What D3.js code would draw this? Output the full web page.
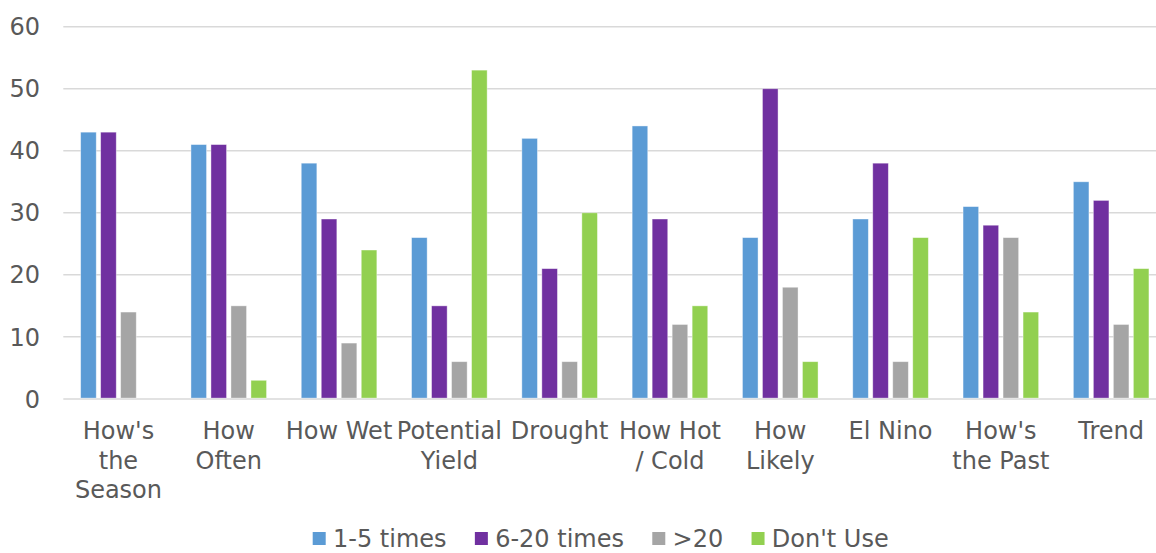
<!DOCTYPE html>
<html>
<head>
<meta charset="utf-8">
<script src="https://cdn.jsdelivr.net/npm/d3@7"></script>
<style>
  html, body { margin: 0; padding: 0; background: #fff; }
  svg { display: block; }
  text { font-family: "DejaVu Sans", Verdana, sans-serif; fill: #595959; }
</style>
</head>
<body>
<svg id="chart" width="1156" height="553"></svg>
<script>
const categories = ["How's the Season", "How Often", "How Wet", "Potential Yield", "Drought",
  "How Hot / Cold", "How Likely", "El Nino", "How's the Past", "Trend"];
const categoryLines = [["How's", "the", "Season"], ["How", "Often"], ["How Wet"], ["Potential", "Yield"],
  ["Drought"], ["How Hot", "/ Cold"], ["How", "Likely"], ["El Nino"], ["How's", "the Past"], ["Trend"]];
const seriesNames = ["1-5 times", "6-20 times", ">20", "Don't Use"];
const times1to5  = [43, 41, 38, 26, 42, 44, 26, 29, 31, 35];
const times6to20 = [43, 41, 29, 15, 21, 29, 50, 38, 28, 32];
const over20     = [14, 15, 9, 6, 6, 12, 18, 6, 26, 12];
const dontUse    = [0, 3, 24, 53, 30, 15, 6, 26, 14, 21];
const yTicks = [0, 10, 20, 30, 40, 50, 60];
const colors = ["#5B9BD5", "#7030A0", "#A5A5A5", "#92D050"];

const seriesValues = [times1to5, times6to20, over20, dontUse];

const svg = d3.select("#chart");
const plotLeft = 63.3, plotRight = 1166.3, plotTop = 26.7, plotBottom = 398.9;

const x = d3.scaleBand().domain(categories).range([plotLeft, plotRight]).padding(0);
const xInner = d3.scaleBand().domain(seriesNames).range([0, x.bandwidth()])
  .paddingInner(0.22).paddingOuter(0.8675);
const y = d3.scaleLinear().domain([0, 60]).range([plotBottom, plotTop]);

// gridlines
svg.append("g").selectAll("line").data(yTicks).join("line")
  .attr("x1", plotLeft).attr("x2", 1156)
  .attr("y1", d => y(d)).attr("y2", d => y(d))
  .attr("stroke", "#D9D9D9").attr("stroke-width", 1.5);

// y labels
svg.append("g").selectAll("text").data(yTicks).join("text")
  .attr("x", 40).attr("y", d => y(d)).attr("dy", "0.36em")
  .attr("text-anchor", "end").style("font-size", "24px")
  .text(d => d);

// bars
const barData = [];
categories.forEach((c, i) => {
  seriesNames.forEach((s, j) => {
    barData.push({ c, s, v: seriesValues[j][i], color: colors[j] });
  });
});
svg.append("g").selectAll("rect").data(barData.filter(d => d.v > 0)).join("rect")
  .attr("x", d => x(d.c) + xInner(d.s))
  .attr("width", xInner.bandwidth())
  .attr("y", d => y(d.v))
  .attr("height", d => y(0) - y(d.v) - 0.8)
  .attr("fill", d => d.color)
  .attr("stroke", "#fff").attr("stroke-opacity", 0.5).attr("stroke-width", 0.8);

// x labels
const xl = svg.append("g");
categories.forEach((c, i) => {
  const t = xl.append("text")
    .attr("x", x(c) + x.bandwidth() / 2)
    .attr("text-anchor", "middle").style("font-size", "24px");
  categoryLines[i].forEach((line, k) => {
    t.append("tspan").attr("x", x(c) + x.bandwidth() / 2)
      .attr("y", 439 + k * 29.5).text(line);
  });
});

// legend
const legend = svg.append("g");
let lx = 312.7;
seriesNames.forEach((s, j) => {
  legend.append("rect").attr("x", lx).attr("y", 532).attr("width", 13).attr("height", 13)
    .attr("fill", colors[j]);
  const t = legend.append("text").attr("x", lx + 20.3).attr("y", 547)
    .style("font-size", "24px").text(s);
  lx += 20.3 + t.node().getComputedTextLength() + 28.3;
});
</script>
</body>
</html>
